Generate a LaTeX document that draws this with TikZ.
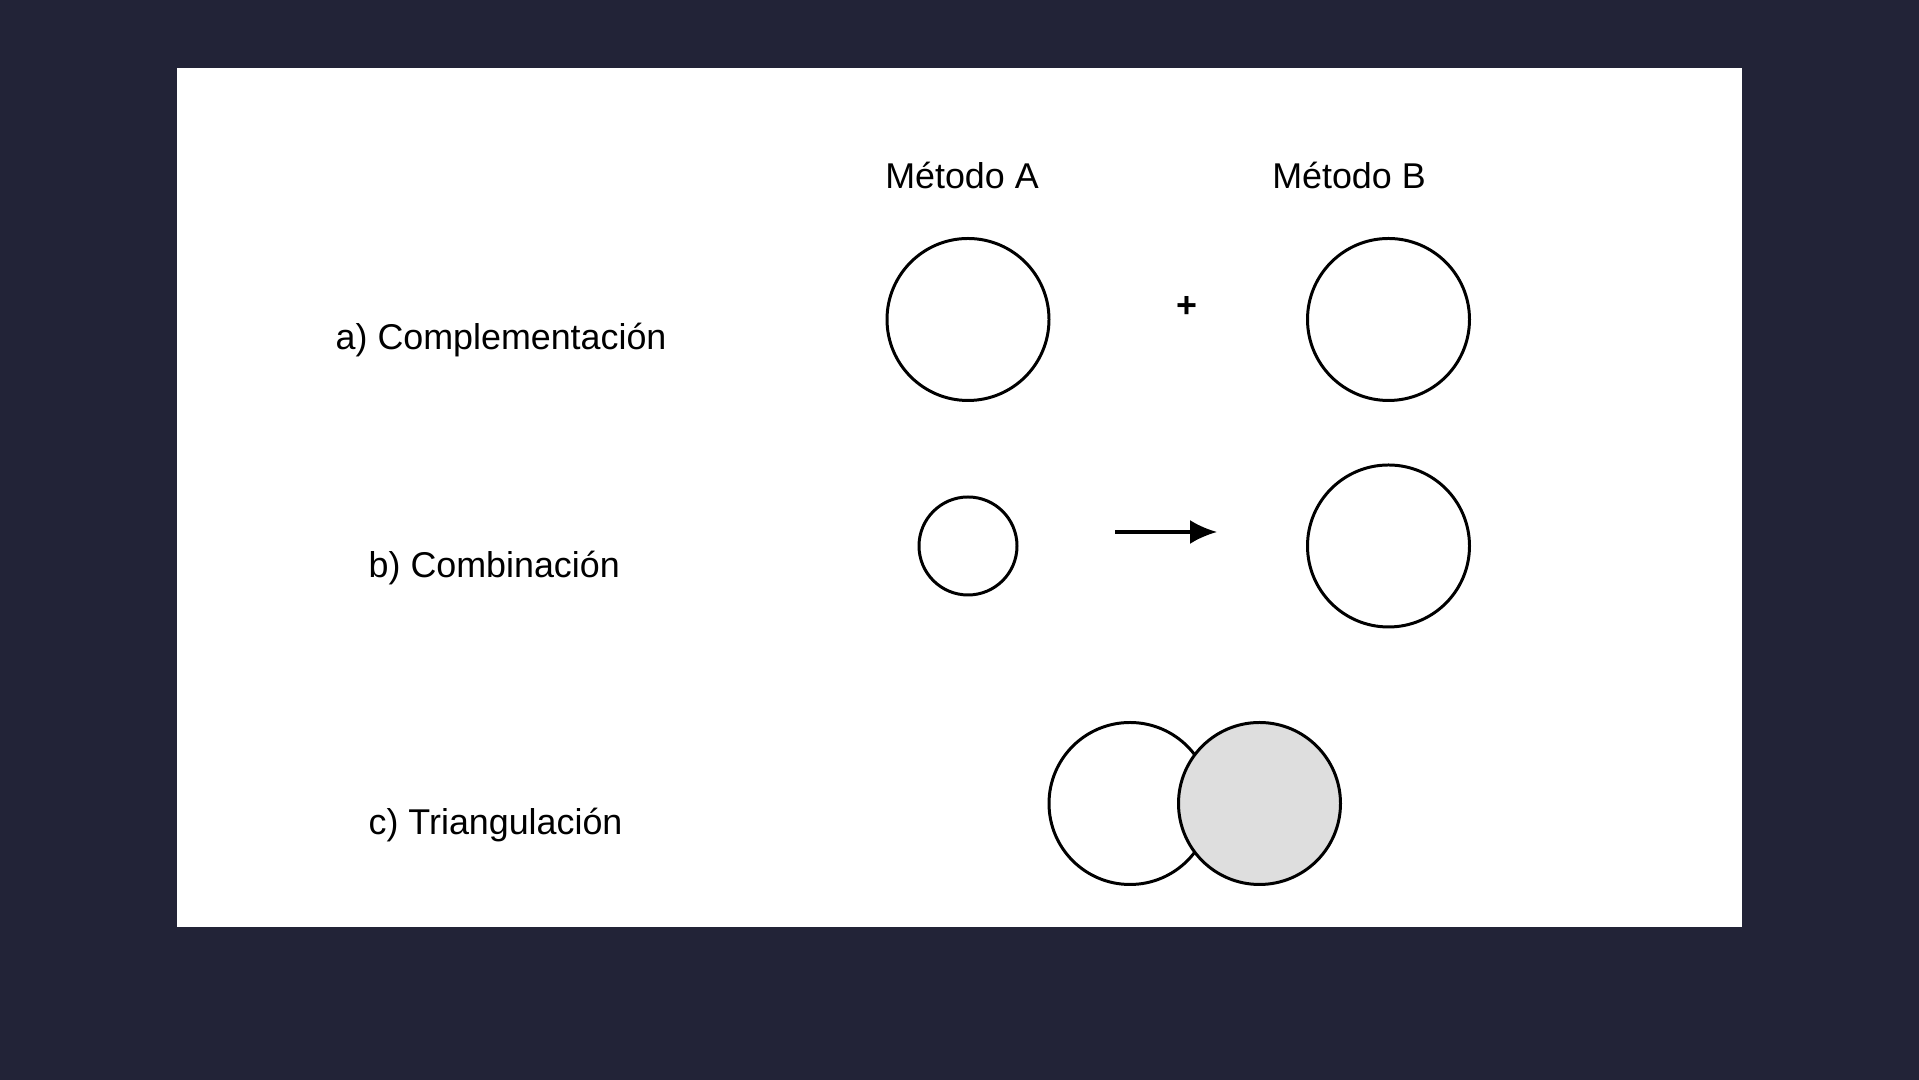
\documentclass[tikz,border=0pt]{standalone}
\usepackage{fontspec}
\setmainfont{Liberation Sans}
\usetikzlibrary{arrows.meta}

\definecolor{fondo}{RGB}{34,35,55}
\definecolor{relleno}{RGB}{222,222,222}

\tikzset{
  metodo/.style={circle,draw,line width=0.85pt,inner sep=0pt,minimum size=#1},
  etiqueta/.style={anchor=base west,inner sep=0pt,font=\fontsize{10.2}{12}\selectfont},
  titulo/.style={anchor=base,inner sep=0pt,font=\fontsize{10.2}{12}\selectfont}
}

\begin{document}
\begin{tikzpicture}
\useasboundingbox (0,0) rectangle (19.19,10.8);
\fill[fondo] (0,0) rectangle (19.19,10.8);
\fill[white] (1.77,1.53) rectangle (17.42,10.12);

% encabezados
\node[titulo] (tA) at (9.62,8.91) {Método A};
\node[titulo] (tB) at (13.49,8.91) {Método B};

% filas
\node[etiqueta] (la) at (3.35,7.30) {a) Complementación};
\node[etiqueta] (lb) at (3.68,5.02) {b) Combinación};
\node[etiqueta] (lc) at (3.68,2.45) {c) Triangulación};

% a) complementacion
\node[metodo=1.62cm] (a1) at (9.68,7.605) {};
\node[metodo=1.62cm] (a2) at (13.885,7.605) {};
\node[font=\fontsize{10.2}{12}\selectfont\bfseries] (mas) at (11.87,7.73) {+};

% b) combinacion
\node[metodo=0.98cm] (b1) at (9.68,5.34) {};
\node[metodo=1.62cm] (b2) at (13.885,5.34) {};
\coordinate (fi) at (11.15,5.48);
\coordinate (ff) at (12.17,5.48);
\draw[line width=0.9pt,-{Latex[length=2.7mm,width=2.4mm]}] (fi) -- (ff);

% c) triangulacion
\node[metodo=1.62cm] (c1) at (11.30,2.765) {};
\node[metodo=1.62cm,fill=relleno] (c2) at (12.595,2.765) {};
\end{tikzpicture}
\end{document}
